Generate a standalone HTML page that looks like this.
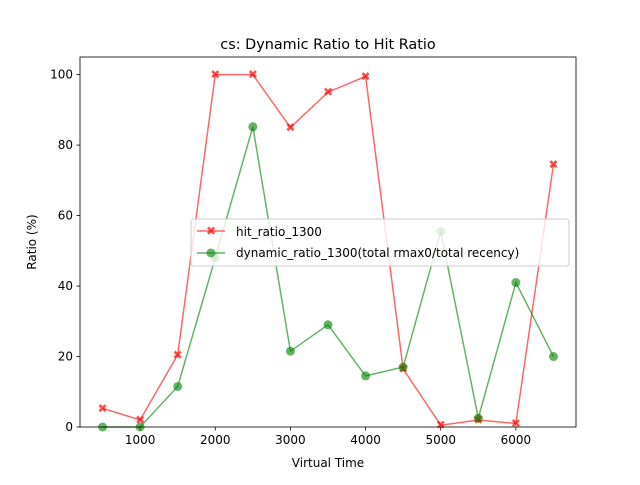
<!DOCTYPE html>
<html><head><meta charset="utf-8"><style>
body{margin:0;background:#fff;font-family:"Liberation Sans","DejaVu Sans",sans-serif}
svg text{font-family:"DejaVu Sans","Liberation Sans",sans-serif}
</style></head><body>
<svg id="chart" width="640" height="480">
<rect width="640" height="480" fill="#fff"/>
<text x="328" y="49" font-size="14.4" text-anchor="middle">cs: Dynamic Ratio to Hit Ratio</text>
<g id="axes"></g>
<g id="series"></g>
<rect x="80" y="57" width="496" height="370" fill="none" stroke="#000" stroke-width="0.8"/>
<text x="328" y="467" font-size="12" text-anchor="middle">Virtual Time</text>
<text transform="translate(36,242) rotate(-90)" font-size="12" text-anchor="middle">Ratio (%)</text>
<g>
<rect x="191" y="219" width="378" height="47" rx="3" fill="#fff" fill-opacity="0.8" stroke="#ccc"/>
<line x1="197" y1="231" x2="225" y2="231" stroke="#ff0000" stroke-opacity="0.6" stroke-width="1.5"/>
<text x="211" y="235" font-size="12" text-anchor="middle" fill="#ff0000" fill-opacity="0.7">✖</text>
<text x="236" y="236" font-size="12">hit_ratio_1300</text>
<line x1="197" y1="253" x2="225" y2="253" stroke="#008000" stroke-opacity="0.6" stroke-width="1.5"/>
<circle cx="211" cy="253" r="4.5" fill="#008000" fill-opacity="0.6"/>
<text x="236" y="257" font-size="12">dynamic_ratio_1300(total rmax0/total recency)</text>
</g>
</svg>
<script>
const xValues=[500,1000,1500,2000,2500,3000,3500,4000,4500,5000,5500,6000,6500];
const hitRatio=[5.3,2,20.5,100,100,85,95,99.5,16.5,0.5,2,1,74.5];
const dynamicRatio=[0,0,11.5,48,85.2,21.5,29,14.5,17,55.5,2.5,41,20];
const xTicks=[1000,2000,3000,4000,5000,6000];
const yTicks=[0,20,40,60,80,100];
const NS="http://www.w3.org/2000/svg";
const X=v=>80+(v-200)/6600*496;
const Y=v=>427-v/105*370;
const axes=document.getElementById('axes'),ser=document.getElementById('series');
function mk(tag,attrs,parent){const e=document.createElementNS(NS,tag);for(const k in attrs)e.setAttribute(k,attrs[k]);parent.appendChild(e);return e;}
xTicks.forEach(t=>{mk('line',{x1:X(t),x2:X(t),y1:427,y2:430.5,stroke:'#000','stroke-width':0.8},axes);
const tx=mk('text',{x:X(t),y:444,'font-size':12,'text-anchor':'middle'},axes);tx.textContent=t;

});
yTicks.forEach(t=>{mk('line',{x1:76.5,x2:80,y1:Y(t),y2:Y(t),stroke:'#000','stroke-width':0.8},axes);
const tx=mk('text',{x:73,y:Y(t)+4,'font-size':12,'text-anchor':'end'},axes);tx.textContent=t;

});
function line(vals,color,name){
const p=mk('polyline',{points:vals.map((v,i)=>X(xValues[i])+','+Y(v)).join(' '),fill:'none',stroke:color,'stroke-opacity':0.6,'stroke-width':1.5},ser);


}
line(hitRatio,'#ff0000','hit-ratio');
line(dynamicRatio,'#008000','dynamic-ratio');
hitRatio.forEach((v,i)=>{const t=mk('text',{x:X(xValues[i]),y:Y(v)+4,'font-size':12,'text-anchor':'middle',fill:'#ff0000','fill-opacity':0.7},ser);t.textContent='✖';

});
dynamicRatio.forEach((v,i)=>{const c=mk('circle',{cx:X(xValues[i]),cy:Y(v),r:4.5,fill:'#008000','fill-opacity':0.6},ser);

});
</script>
</body></html>
